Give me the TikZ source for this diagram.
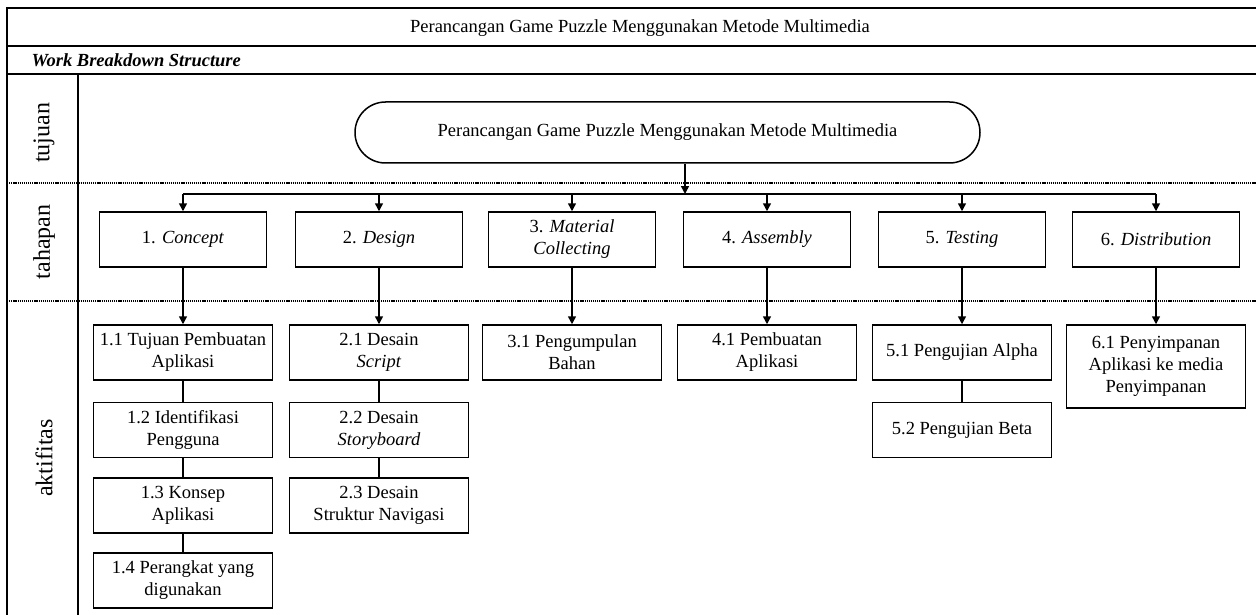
\documentclass[tikz,border=0pt]{standalone}
\usepackage{fontspec}
\setmainfont{Liberation Serif}
\usetikzlibrary{arrows.meta}
\begin{document}
\begin{tikzpicture}[x=1pt,y=-1pt,
  txt/.style={font=\fontsize{18.5}{22}\selectfont},
  phasebox/.style={txt,draw,line width=1.5pt,minimum width=167pt,minimum height=55pt,inner sep=1pt,align=center},
  actbox/.style={txt,draw,line width=1.5pt,minimum width=179pt,minimum height=55pt,inner sep=1pt,align=center},
  goalbox/.style={txt,draw,line width=1.5pt,rounded corners=30.5pt,minimum width=625pt,minimum height=61pt,inner sep=1pt},
  sidelabel/.style={font=\fontsize{24}{28}\selectfont,rotate=90},
  frame/.style={line width=1.8pt},
  dotline/.style={line width=1.6pt,dash pattern=on 1.2pt off 0.9pt},
  arr/.style={line width=1.5pt,-{Triangle[length=8pt,width=8pt]}},
  link/.style={line width=1.5pt}]
\useasboundingbox (0,0) rectangle (1256,615);
\fill[white] (0,0) rectangle (1256,615);
% frame
\draw[frame] (7,615) -- (7,8) -- (1256,8);
\draw[frame] (7,46) -- (1256,46);
\draw[frame] (7,74) -- (1256,74);
\draw[frame] (78,74) -- (78,615);
\draw[dotline] (7,183) -- (1256,183);
\draw[dotline] (7,301) -- (1256,301);
% header texts
\node[txt] (title) at (640,28) {Perancangan Game Puzzle Menggunakan Metode Multimedia};
\node[txt,anchor=west,font=\fontsize{18.5}{22}\selectfont\bfseries\itshape] (wbs) at (28,60) {Work Breakdown Structure};
% side labels
\node[sidelabel] (lt) at (44,133) {tujuan};
\node[sidelabel] (lp) at (44,242) {tahapan};
\node[sidelabel] (la) at (44,458) {aktifitas};
% goal
\node[goalbox] (goal) at (667.5,132.5) {Perancangan Game Puzzle Menggunakan Metode Multimedia};
% phases
\node[phasebox] (p1) at (183,239.5) {1. \textit{Concept}};
\node[phasebox] (p2) at (379,239.5) {2. \textit{Design}};
\node[phasebox] (p3) at (572,239.5) {3. \textit{Material}\\\textit{Collecting}};
\node[phasebox] (p4) at (767,239.5) {4. \textit{Assembly}};
\node[phasebox] (p5) at (962,239.5) {5. \textit{Testing}};
\node[phasebox] (p6) at (1156,239.5) {6. \textit{Distribution}};
% activities
\node[actbox] (a11) at (183,352.5) {1.1 Tujuan Pembuatan\\Aplikasi};
\node[actbox] (a12) at (183,430) {1.2 Identifikasi\\Pengguna};
\node[actbox] (a13) at (183,505.5) {1.3 Konsep\\Aplikasi};
\node[actbox] (a14) at (183,580.5) {1.4 Perangkat yang\\digunakan};
\node[actbox] (a21) at (379,352.5) {2.1 Desain\\\textit{Script}};
\node[actbox] (a22) at (379,430) {2.2 Desain\\\textit{Storyboard}};
\node[actbox] (a23) at (379,505.5) {2.3 Desain\\Struktur Navigasi};
\node[actbox] (a31) at (572,352.5) {3.1 Pengumpulan\\Bahan};
\node[actbox] (a41) at (767,352.5) {4.1 Pembuatan\\Aplikasi};
\node[actbox] (a51) at (962,352.5) {5.1 Pengujian Alpha};
\node[actbox] (a52) at (962,430) {5.2 Pengujian Beta};
\node[actbox,minimum height=83pt] (a61) at (1156,366.5) {6.1 Penyimpanan\\Aplikasi ke media\\Penyimpanan};
% connectors
\coordinate (bar) at (685,194);
\draw[arr] (bar |- goal.south) -- (bar);
\draw[link] (p1.north |- bar) -- (p6.north |- bar);
\foreach \p in {p1,p2,p3,p4,p5,p6} {
  \draw[arr] (\p.north |- bar) -- (\p.north);
}
\draw[arr] (p1.south) -- (p1.south |- a11.north);
\draw[arr] (p2.south) -- (p2.south |- a21.north);
\draw[arr] (p3.south) -- (p3.south |- a31.north);
\draw[arr] (p4.south) -- (p4.south |- a41.north);
\draw[arr] (p5.south) -- (p5.south |- a51.north);
\draw[arr] (p6.south) -- (p6.south |- a61.north);
\draw[link] (a11) -- (a12);
\draw[link] (a12) -- (a13);
\draw[link] (a13) -- (a14);
\draw[link] (a21) -- (a22);
\draw[link] (a22) -- (a23);
\draw[link] (a51) -- (a52);
\end{tikzpicture}
\end{document}
